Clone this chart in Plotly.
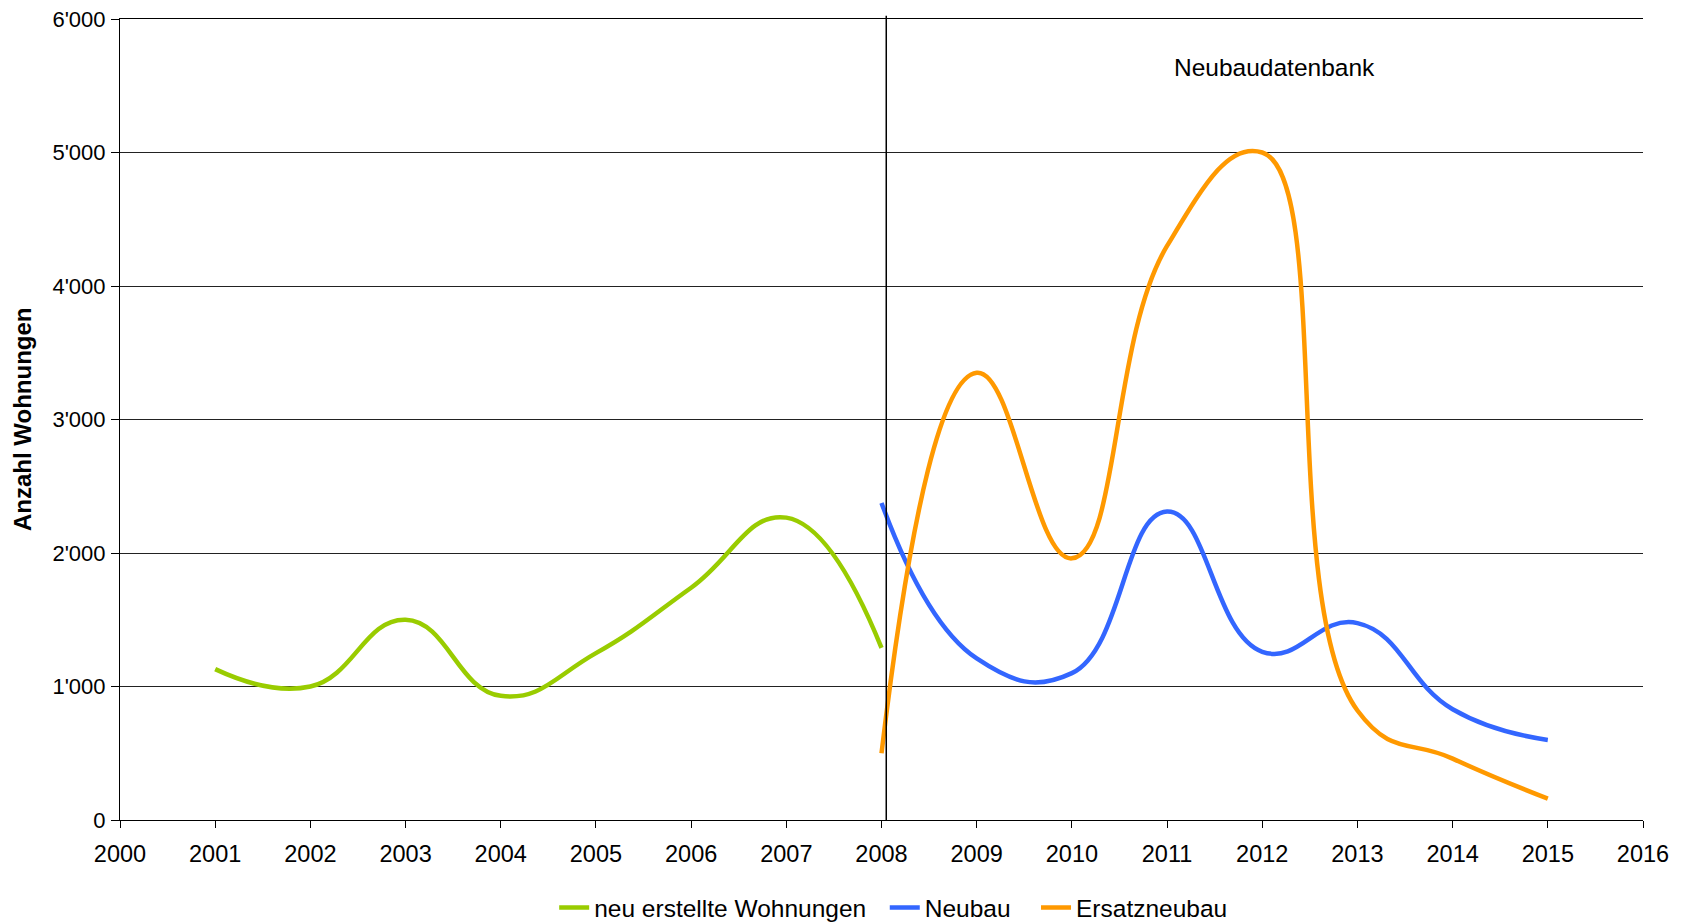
import plotly.graph_objects as go

years_green = [2001, 2002, 2003, 2004, 2005, 2006, 2007, 2008]
green_vals = [1130, 1000, 1500, 930, 1250, 1740, 2265, 1290]

years_new = [2008, 2009, 2010, 2011, 2012, 2013, 2014, 2015]
neubau_vals = [2375, 1210, 1100, 2310, 1260, 1475, 830, 600]
ersatz_vals = [500, 3350, 1960, 4300, 5000, 820, 460, 160]

series_names = ["neu erstellte Wohnungen", "Neubau", "Ersatzneubau"]

x_ticks = list(range(2000, 2017))
y_ticks = [0, 1000, 2000, 3000, 4000, 5000, 6000]

font_main = "Liberation Sans, Arial, sans-serif"
NB = "\u00a0"

fig = go.Figure()
fig.add_trace(go.Scatter(x=years_green, y=green_vals, mode="lines", name=series_names[0] + NB * 2,
                         line=dict(color="#99CC00", width=4.5, shape="spline", smoothing=1.3)))
fig.add_trace(go.Scatter(x=years_new, y=neubau_vals, mode="lines", name=series_names[1] + NB * 3,
                         line=dict(color="#3366FF", width=4.5, shape="spline", smoothing=1.3)))
fig.add_trace(go.Scatter(x=years_new, y=ersatz_vals, mode="lines", name=series_names[2],
                         line=dict(color="#FF9900", width=4.5, shape="spline", smoothing=1.3)))

fig.add_shape(type="line", xref="x", yref="paper", x0=2008.05, x1=2008.05, y0=0, y1=1.004,
              line=dict(color="black", width=1.5))

fig.add_annotation(x=2011.05, y=5640, xref="x", yref="y", text="Neubaudatenbank", showarrow=False,
                   xanchor="left", yanchor="middle", font=dict(family=font_main, size=24.5, color="black"))

fig.add_annotation(x=-0.064, y=0.5, xref="paper", yref="paper", text="<b>Anzahl Wohnungen</b>",
                   showarrow=False, textangle=-90, xanchor="center", yanchor="middle",
                   font=dict(family=font_main, size=24, color="black"))

fig.update_layout(
    width=1694, height=923,
    margin=dict(l=112, r=59, t=11, b=111, autoexpand=False),
    paper_bgcolor="white", plot_bgcolor="white",
    separators=".'",
    font=dict(family=font_main, size=23, color="black"),
    showlegend=True,
    legend=dict(orientation="h", x=0.508, xanchor="center", y=0.0255, yanchor="middle",
                yref="container",
                font=dict(family=font_main, size=24.5, color="black"),
                itemwidth=30, tracegroupgap=0),
)
fig.update_xaxes(range=[2000, 2016], tickmode="array", tickvals=x_ticks, ticktext=[str(v) for v in x_ticks],
                 showgrid=False, showline=True, linecolor="black", linewidth=1, mirror=True,
                 ticks="outside", ticklen=7, tickcolor="black", ticklabelstandoff=6,
                 tickfont=dict(family=font_main, size=23.5), zeroline=False, automargin=False)
fig.update_yaxes(range=[0, 6000], tickmode="array", tickvals=y_ticks, tickformat=",d",
                 showgrid=True, gridcolor="#222222", gridwidth=1,
                 showline=True, linecolor="black", linewidth=1,
                 ticks="outside", ticklen=8, tickcolor="black", ticklabelstandoff=1,
                 ticklabeloverflow="allow",
                 tickfont=dict(family=font_main, size=22), zeroline=False, automargin=False)

fig.write_html("out.html")
